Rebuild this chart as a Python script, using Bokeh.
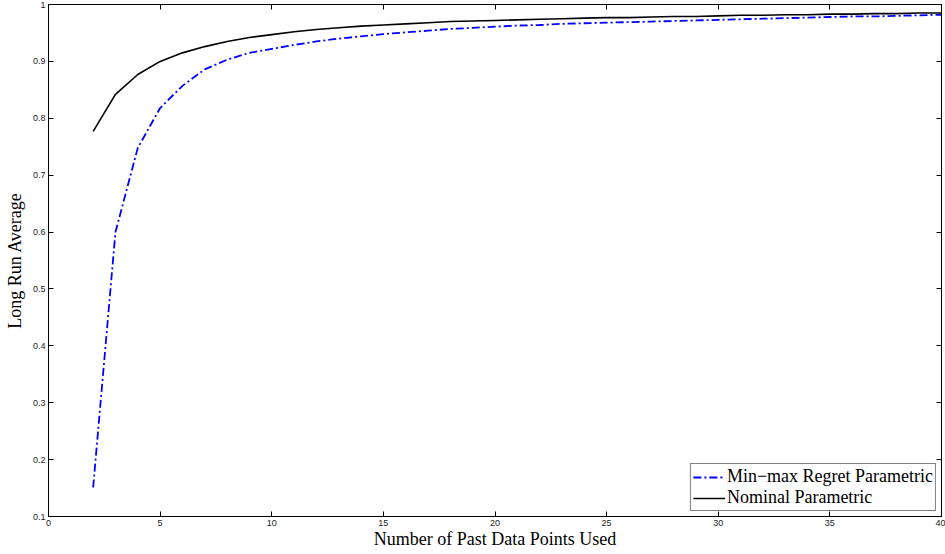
from bokeh.plotting import figure
from bokeh.models import Range1d, LinearAxis, FixedTicker, Legend, LegendItem, CustomJSTickFormatter
from bokeh.embed import file_html
from bokeh.resources import INLINE

x_vals = list(range(2, 41))
nominal = [0.777, 0.842, 0.877, 0.900, 0.915, 0.926, 0.935, 0.942, 0.947, 0.952,
           0.956, 0.959, 0.962, 0.964, 0.966, 0.968, 0.970, 0.971, 0.972, 0.973,
           0.974, 0.975, 0.976, 0.977, 0.977, 0.978, 0.979, 0.979, 0.980, 0.981,
           0.981, 0.982, 0.982, 0.983, 0.983, 0.984, 0.984, 0.985, 0.985]
minmax = [0.151, 0.600, 0.748, 0.818, 0.857, 0.886, 0.903, 0.915, 0.922, 0.929,
          0.935, 0.940, 0.944, 0.948, 0.951, 0.954, 0.957, 0.959, 0.961, 0.963,
          0.964, 0.966, 0.967, 0.968, 0.969, 0.970, 0.971, 0.972, 0.973, 0.974,
          0.975, 0.976, 0.977, 0.978, 0.979, 0.979, 0.980, 0.981, 0.982]
x_ticks = [0, 5, 10, 15, 20, 25, 30, 35, 40]
y_ticks = [0.1, 0.2, 0.3, 0.4, 0.5, 0.6, 0.7, 0.8, 0.9, 1.0]
y_tick_labels = ["0.1", "0.2", "0.3", "0.4", "0.5", "0.6", "0.7", "0.8", "0.9", "1"]
x_label = "Number of Past Data Points Used"
y_label = "Long Run Average"
series_names = ["Min\u2212max Regret Parametric", "Nominal Parametric"]

p = figure(width=945, height=554, output_backend="svg", toolbar_location=None,
           x_range=Range1d(0, 40), y_range=Range1d(0.1, 1.0),
           min_border_left=48, min_border_right=4, min_border_top=4, min_border_bottom=38,
           x_axis_location=None, y_axis_location=None)
p.grid.visible = False
p.outline_line_color = "black"
p.outline_line_width = 1
p.background_fill_color = "white"
p.border_fill_color = "white"

tick_font = "Liberation Sans"

def style_axis(ax, show_labels):
    ax.axis_line_color = "black"
    ax.axis_line_width = 1
    ax.major_tick_in = 5
    ax.major_tick_out = 0
    ax.minor_tick_in = 0
    ax.minor_tick_out = 0
    ax.major_tick_line_color = "black"
    ax.major_label_text_font = tick_font
    ax.major_label_text_font_size = "9px"
    ax.major_label_text_color = "#222222"
    ax.major_label_standoff = 3
    ax.axis_label_text_color = "black"
    if not show_labels:
        ax.formatter = CustomJSTickFormatter(code="return ''")
        ax.major_label_text_font_size = "0px"

xb = LinearAxis(ticker=FixedTicker(ticks=x_ticks), axis_label=x_label)
style_axis(xb, True)
xb.axis_label_text_font = "Liberation Serif"
xb.axis_label_text_font_size = "18px"
xb.axis_label_text_font_style = "normal"
xb.axis_label_standoff = 0
p.add_layout(xb, "below")

xt = LinearAxis(ticker=FixedTicker(ticks=x_ticks))
style_axis(xt, False)
p.add_layout(xt, "above")

yl = LinearAxis(ticker=FixedTicker(ticks=y_ticks), axis_label=y_label)
style_axis(yl, True)
yl.major_label_overrides = {t: s for t, s in zip(y_ticks, y_tick_labels)}
yl.axis_label_text_font = "Liberation Serif"
yl.axis_label_text_font_size = "18px"
yl.axis_label_text_font_style = "normal"
yl.axis_label_standoff = 5
p.add_layout(yl, "left")

yr = LinearAxis(ticker=FixedTicker(ticks=y_ticks))
style_axis(yr, False)
p.add_layout(yr, "right")

r1 = p.line(x_vals, minmax, line_color="blue", line_width=1.8, line_dash="8 3 2 3")
r2 = p.line(x_vals, nominal, line_color="black", line_width=1.6)

legend = Legend(items=[LegendItem(label=series_names[0], renderers=[r1]),
                       LegendItem(label=series_names[1], renderers=[r2])],
                location="bottom_right")
legend.label_text_font = "Liberation Serif"
legend.label_text_font_size = "18px"
legend.label_text_color = "black"
legend.label_height = 20
legend.glyph_height = 20
legend.glyph_width = 32
legend.label_standoff = 2
legend.spacing = 0
legend.padding = 2
legend.margin = 5
legend.border_line_color = "black"
legend.border_line_width = 1
legend.background_fill_alpha = 1
p.add_layout(legend, "center")

open("out.html", "w").write(file_html(p, INLINE))
